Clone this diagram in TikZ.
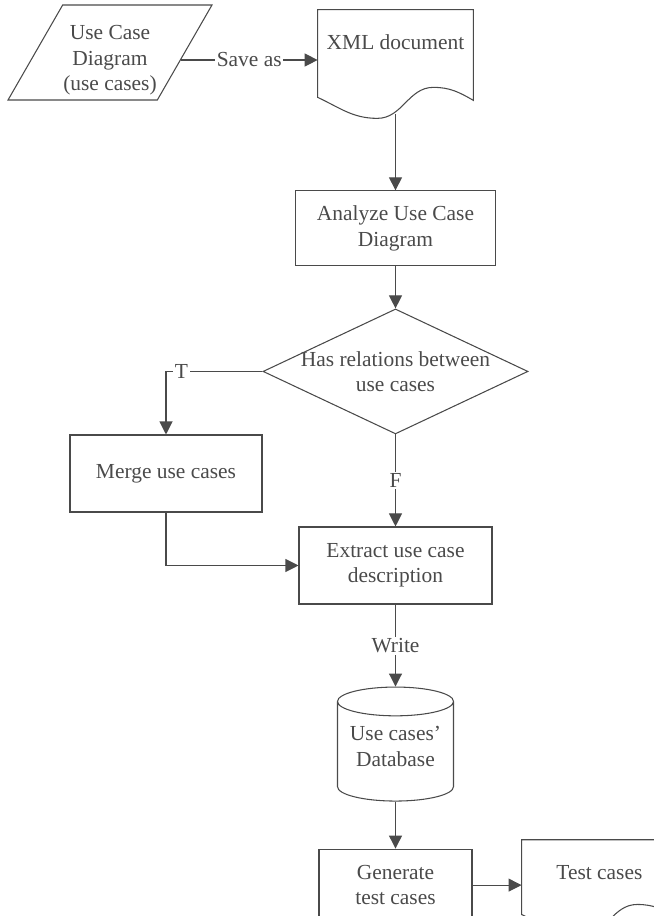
\documentclass[tikz,border=0pt]{standalone}
\usepackage{fontspec}
\setmainfont{Liberation Serif}
\usetikzlibrary{arrows.meta,positioning,shapes.geometric}

\definecolor{ink}{HTML}{4A4A4A}

% document symbol: frame round node #1 with a wavy lower edge dropped by #2
\newcommand{\docoutline}[2]{%
  \draw[frame] (#1.north west) -- (#1.north east) -- ([yshift=-#2-0.06cm]#1.south east)
    to[out=150,in=0] ++(-0.8,0.26) to[out=180,in=0] ++(-1.12,-0.62)
    to[out=180,in=-25] ([yshift=-#2]#1.south west) -- cycle;}

\begin{document}
\begin{tikzpicture}[
  every node/.style={text=ink, font=\fontsize{12.2}{14.5}\selectfont},
  frame/.style={draw=ink, line width=0.6pt},
  process/.style={rectangle, frame, align=center, minimum height=1.54cm},
  io/.style={trapezium, trapezium left angle=60, trapezium right angle=120,
    trapezium stretches=true, frame, align=center,
    minimum width=4.08cm, minimum height=1.9cm},
  doc/.style={rectangle, align=center, minimum width=3.1cm, minimum height=1.28cm},
  decision/.style={diamond, frame, minimum width=5.3cm, minimum height=2.5cm,
    inner sep=0pt},
  store/.style={cylinder, shape border rotate=90, aspect=0.28, frame, align=center,
    minimum width=2.32cm, minimum height=2.28cm},
  lbl/.style={fill=white, inner sep=1pt},
  arr/.style={draw=ink, line width=0.6pt, -{Triangle[length=2.6mm,width=2.6mm]}}
]
\useasboundingbox (0,0) rectangle (13.08,-18.32);
\clip (0,0) rectangle (13.08,-18.32);

% Input and its saved form
\node[io, label={[align=center, yshift=-0.16cm]center:Use Case\\Diagram\\(use cases)}] (ucd) at (2.2,-1.05) {};
\node[doc] (xml) at (7.91,-0.84) {XML document};
\docoutline{xml}{0.46cm}
\coordinate (xml-out) at ([yshift=-0.8cm]xml.south);

% Main column
\node[process, minimum width=4cm, minimum height=1.5cm, below=2.32cm of xml] (analyze) {Analyze Use Case\\Diagram};
\node[decision, below=0.84cm of analyze,
  label={[align=center]center:Has relations between\\use cases}] (dec) {};
\node[process, minimum width=3.84cm] (merge) at (3.32,-9.47) {Merge use cases};
\node[process, minimum width=3.86cm, below=1.84cm of dec] (extract) {Extract use case\\description};
\node[store, text depth=0.34cm, below=1.64cm of extract] (db) {Use cases'\\Database};
\node[process, minimum width=3.06cm, minimum height=1.44cm, below=0.94cm of db] (gen) {Generate\\test cases};
\node[doc, right=0.98cm of gen, yshift=0.26cm] (test) {Test cases};
\docoutline{test}{0.2cm}

\draw[arr] ([xshift=-0.09cm, yshift=-0.15cm]ucd.east) -- node[lbl] {Save as} ([yshift=-0.15cm]ucd.east -| xml.west);
\draw[arr] (xml-out) -- (analyze);
\draw[arr] (analyze) -- (dec);
\draw[arr] (dec.west) -| node[lbl, pos=0.42] {T} (merge.north);
\draw[arr] (dec) -- node[lbl] {F} (extract);
\draw[arr] (merge) |- (extract);
\draw[arr] (extract) -- node[lbl] {Write} (db);
\draw[arr] (db) -- (gen);
\draw[arr] (gen.east) -- (gen.east -| test.west);

\end{tikzpicture}
\end{document}
